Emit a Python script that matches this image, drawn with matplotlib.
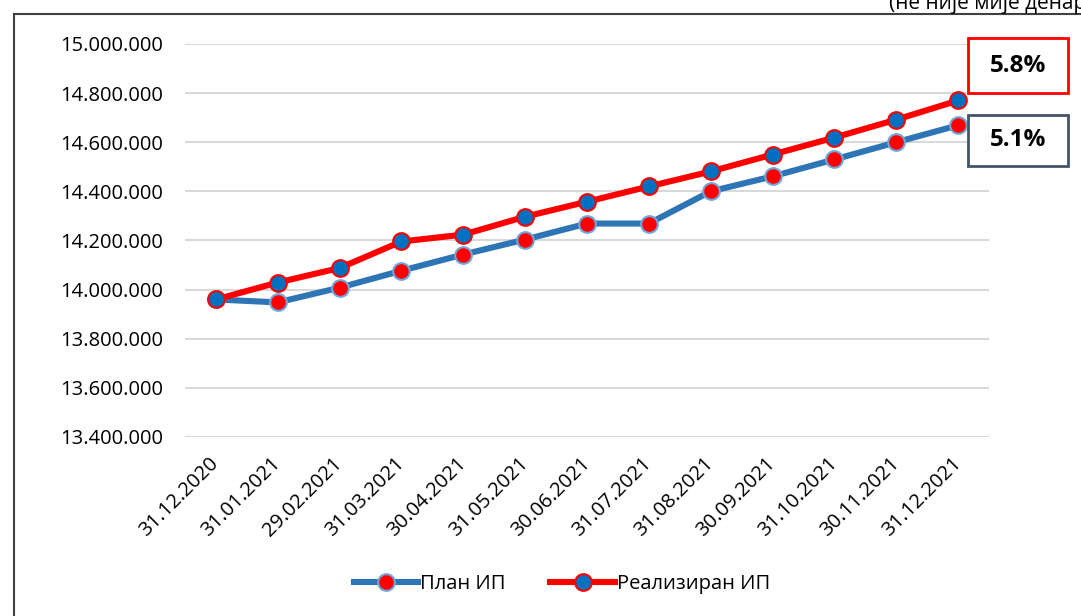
import matplotlib.pyplot as plt
from matplotlib.patches import Rectangle
from matplotlib.lines import Line2D
from matplotlib.ticker import FuncFormatter

plt.rcParams['font.family'] = ['Open Sans', 'DejaVu Sans']

dates = ['31.12.2020', '31.01.2021', '29.02.2021', '31.03.2021', '30.04.2021',
         '31.05.2021', '30.06.2021', '31.07.2021', '31.08.2021', '30.09.2021',
         '31.10.2021', '30.11.2021', '31.12.2021']
plan = [13960000, 13948000, 14008000, 14077000, 14143000, 14204000, 14269000,
        14269000, 14400000, 14461000, 14530000, 14600000, 14669000]
real = [13960000, 14029000, 14088000, 14196000, 14224000, 14297000, 14358000,
        14420000, 14481000, 14550000, 14619000, 14692000, 14770000]
growth_labels = ['5.8%', '5.1%']

W, H = 1081, 616
fig = plt.figure(figsize=(W / 100, H / 100), dpi=100)
ax = fig.add_axes([185 / W, 1 - 437 / H, (989 - 185) / W, (437 - 44) / H])

plan_style = dict(color='#2E75B6', lw=4.4, marker='o', ms=12,
                  mfc='#FF0000', mec='#6FA8DC', mew=1.5)
real_style = dict(color='#FF0000', lw=4.4, marker='o', ms=12,
                  mfc='#0070C0', mec='#FF0000', mew=1.5)

x = range(len(dates))
ax.plot(x, plan, zorder=3, **plan_style)
ax.plot(x, real, zorder=4, **real_style)

ax.set_xlim(-0.5, len(dates) - 0.5)
ax.set_ylim(13400000, 15000000)
ax.set_yticks(range(13400000, 15000001, 200000))
ax.yaxis.set_major_formatter(FuncFormatter(lambda v, p: f'{v:,.0f}'.replace(',', '.')))
ax.set_xticks(list(x))
ax.set_xticklabels(dates, rotation=45, ha='right', va='center',
                   rotation_mode='anchor', fontsize=14.5)
ax.tick_params(axis='x', length=0, pad=17)
ax.tick_params(axis='y', length=0, pad=16, labelsize=14.5)
ax.grid(axis='y', color='#D9D9D9', lw=1.5)
ax.set_axisbelow(True)
for s in ax.spines.values():
    s.set_visible(False)

# outer frame, cut on the right and bottom like the source
fig.add_artist(Rectangle((14 / W, -0.1), 1.2, 1 - 14 / H + 0.1,
                         transform=fig.transFigure, fill=False,
                         ec='#404040', lw=1.5))
fig.text(889 / W, 1 - 9 / H, '(не није мије денари)', ha='left', va='baseline',
         fontsize=15, color='#000000')

boxes = [((968, 38, 1068, 93), '#FF0000'), ((968, 115, 1068, 166), '#44546A')]
for ((x0, y0, x1, y1), ec), lab in zip(boxes, growth_labels):
    fig.add_artist(Rectangle((x0 / W, 1 - y1 / H), (x1 - x0) / W, (y1 - y0) / H,
                             transform=fig.transFigure, fc='white', ec=ec, lw=2))
    fig.text((x0 + x1) / 2 / W, 1 - (y0 + y1) / 2 / H, lab, ha='center',
             va='center', fontsize=17.5, fontweight='bold')

handles = [Line2D([], [], **plan_style), Line2D([], [], **real_style)]
fig.legend(handles, ['План ИП', 'Реализиран ИП'], loc='center',
           bbox_to_anchor=(562 / W, 1 - 584 / H), ncol=2, frameon=False,
           fontsize=14.5, handlelength=3.2, handletextpad=0.1, columnspacing=2.2)

fig.savefig('out.png', dpi=100)
